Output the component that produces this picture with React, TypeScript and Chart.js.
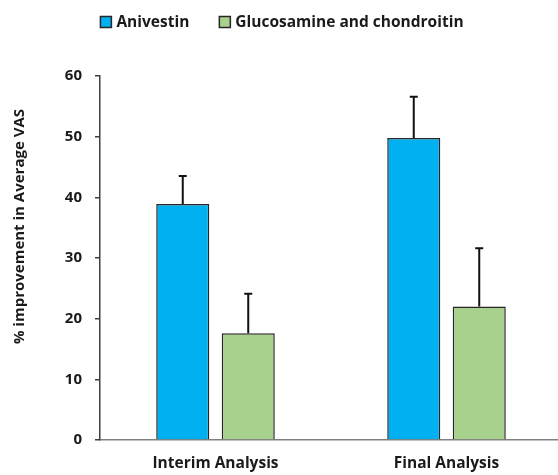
import React, { useEffect, useRef } from "react";
import { Chart, registerables } from "chart.js";

Chart.register(...registerables);

const categories = ["Interim Analysis", "Final Analysis"];
const seriesNames = ["Anivestin", "Glucosamine and chondroitin"];
const anivestinValues = [38.9, 49.8];
const anivestinErrors = [4.6, 6.8];
const glucosamineValues = [17.6, 22.0];
const glucosamineErrors = [6.5, 9.6];
const yTicks = [0, 10, 20, 30, 40, 50, 60];
const yTitle = "% improvement in Average VAS";

const FONT = "'Open Sans', 'DejaVu Sans', sans-serif";

const errorBarPlugin = {
  id: "errorBars",
  afterDatasetsDraw(chart: any) {
    const ctx = chart.ctx;
    const yScale = chart.scales.y;
    chart.data.datasets.forEach((ds: any, di: number) => {
      const meta = chart.getDatasetMeta(di);
      meta.data.forEach((el: any, i: number) => {
        const v = ds.data[i];
        const e = ds.errors[i];
        const yTop = yScale.getPixelForValue(v + e);
        const yBase = el.y;
        ctx.save();
        ctx.strokeStyle = "#111";
        ctx.lineWidth = 2;
        ctx.beginPath();
        ctx.moveTo(el.x, yBase);
        ctx.lineTo(el.x, yTop);
        ctx.moveTo(el.x - 4, yTop);
        ctx.lineTo(el.x + 4, yTop);
        ctx.stroke();
        ctx.restore();
      });
    });
  },
};

const legendPlugin = {
  id: "customLegend",
  afterDraw(chart: any) {
    const ctx = chart.ctx;
    ctx.save();
    ctx.font = `bold 15.5px ${FONT}`;
    const box = 11;
    const gapText = 5;
    const gapItem = 30;
    const items = chart.data.datasets.map((ds: any) => ({
      label: ds.label,
      color: ds.backgroundColor,
      w: ctx.measureText(ds.label).width,
    }));
    let total = 0;
    items.forEach((it: any, i: number) => {
      total += box + gapText + it.w + (i < items.length - 1 ? gapItem : 0);
    });
    let x = chart.width / 2 + 1 - total / 2;
    const cy = 22;
    items.forEach((it: any) => {
      ctx.fillStyle = it.color;
      ctx.fillRect(x, cy - box / 2, box, box);
      ctx.strokeStyle = "#262626";
      ctx.lineWidth = 1.5;
      ctx.strokeRect(x, cy - box / 2, box, box);
      ctx.fillStyle = "#1a1a1a";
      ctx.textBaseline = "middle";
      ctx.textAlign = "left";
      ctx.fillText(it.label, x + box + gapText, cy + 1);
      x += box + gapText + it.w + gapItem;
    });
    ctx.restore();
  },
};

const yTitlePlugin = {
  id: "yTitle",
  afterDraw(chart: any) {
    const ctx = chart.ctx;
    ctx.save();
    ctx.font = `bold 15px ${FONT}`;
    ctx.fillStyle = "#1a1a1a";
    ctx.translate(19.5, 226.5);
    ctx.rotate(-Math.PI / 2);
    ctx.textAlign = "center";
    ctx.textBaseline = "middle";
    ctx.fillText(yTitle, 0, 0);
    ctx.restore();
  },
};

function App() {
  const ref = useRef<HTMLCanvasElement | null>(null);
  useEffect(() => {
    if (!ref.current) return;
    const chart = new Chart(ref.current, {
      type: "bar",
      data: {
        labels: categories,
        datasets: [
          {
            label: seriesNames[0],
            data: anivestinValues,
            errors: anivestinErrors,
            backgroundColor: "#00B0F0",
            borderColor: "#262626",
            borderWidth: 1.5,
          } as any,
          {
            label: seriesNames[1],
            data: glucosamineValues,
            errors: glucosamineErrors,
            backgroundColor: "#A9D18E",
            borderColor: "#262626",
            borderWidth: 1.5,
          } as any,
        ],
      },
      options: {
        animation: false,
        responsive: true,
        maintainAspectRatio: false,
        layout: { padding: { top: 76, left: 0, right: 0, bottom: 0 } },
        datasets: {
          bar: { categoryPercentage: 0.567, barPercentage: 0.81 },
        },
        plugins: {
          legend: { display: false },
          tooltip: { enabled: false },
        },
        scales: {
          x: {
            grid: { display: true, drawOnChartArea: false, drawTicks: false },
            border: { display: true, color: "#808080", width: 1.5 },
            ticks: {
              color: "#1a1a1a",
              font: { family: FONT, size: 15.5, weight: "bold" },
              padding: 14,
            },
            afterFit(scale: any) {
              scale.height = 35;
            },
          },
          y: {
            min: 0,
            max: 60,
            afterBuildTicks(scale: any) {
              scale.ticks = yTicks.map((v) => ({ value: v }));
            },
            grid: {
              display: true,
              drawOnChartArea: false,
              drawTicks: true,
              tickLength: 5,
              color: "#404040",
              lineWidth: 1.5,
            },
            border: { display: true, color: "#404040", width: 1.5 },
            ticks: {
              color: "#1a1a1a",
              font: { family: FONT, size: 15, weight: "bold" },
              padding: 13,
            },
            afterFit(scale: any) {
              scale.width = 100;
            },
          },
        },
      },
      plugins: [errorBarPlugin, legendPlugin, yTitlePlugin],
    } as any);
    return () => chart.destroy();
  }, []);
  return (
    <div
      style={{
        position: "absolute",
        left: 0,
        top: 0,
        width: 558,
        height: 475,
        overflow: "hidden",
        background: "#fff",
      }}
    >
      <div style={{ position: "relative", width: 562, height: 475 }}>
        <canvas ref={ref} />
      </div>
    </div>
  );
}

export default App;
